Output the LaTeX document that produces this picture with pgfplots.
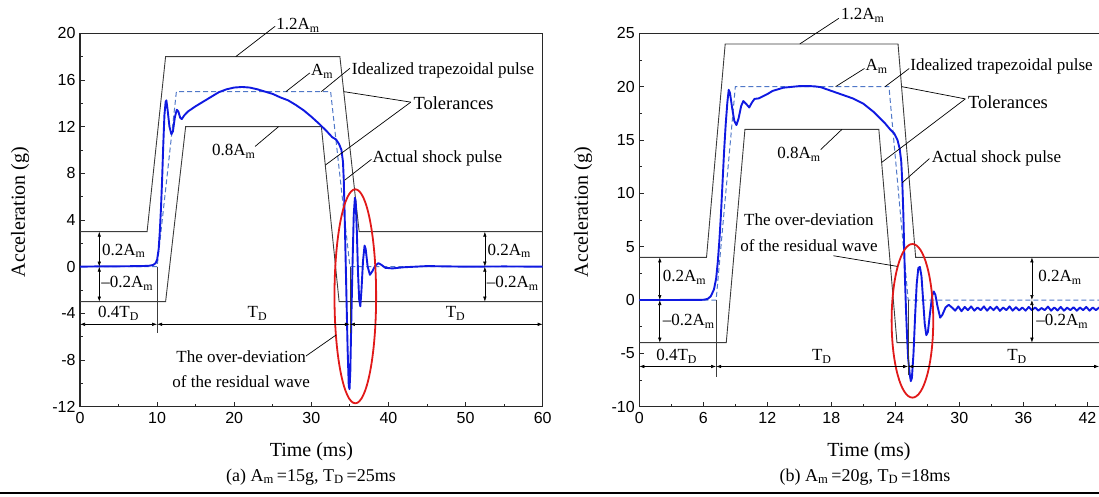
\documentclass[border=0pt]{standalone}
\usepackage{fontspec}
\setmainfont{Liberation Serif}
\setsansfont{Liberation Sans}
\usepackage{pgfplots}
\pgfplotsset{compat=1.18}
\usetikzlibrary{arrows.meta}

\definecolor{pulse}{RGB}{15,25,225}
\definecolor{ideal}{RGB}{80,120,200}
\definecolor{tol}{RGB}{60,60,60}
\definecolor{frm}{RGB}{40,40,40}
\definecolor{ell}{RGB}{225,25,25}

\newcommand{\ann}{\fontsize{17bp}{20bp}\selectfont}
\newcommand{\lab}{\fontsize{20bp}{24bp}\selectfont}
\newcommand{\capt}{\fontsize{18bp}{22bp}\selectfont}

\pgfplotsset{
  panel/.style={
    anchor=south west, scale only axis, height=373.4bp,
    tick align=inside, tick pos=left,
    major tick length=5bp, minor tick length=3bp,
    axis line style={frm, line width=1.1bp},
    major tick style={frm, line width=0.9bp},
    minor tick style={frm, line width=0.9bp},
    /pgf/number format/assume math mode=true,
    tick label style={font=\fontsize{16bp}{18bp}\selectfont\sffamily},
    xticklabel style={yshift=-2bp},
    yticklabel style={xshift=-1bp},
    clip=false,
  },
}
\tikzset{
  tolline/.style={tol, line width=0.9bp},
  idealline/.style={ideal, line width=1bp, dash pattern=on 5bp off 3bp},
  pulseline/.style={pulse, line width=1.9bp, line join=round},
  leader/.style={black, line width=0.7bp},
  dim/.style={black, line width=0.6bp, {Latex[length=5bp,width=3.5bp]}-{Latex[length=5bp,width=3.5bp]}},
}

\begin{document}
\begin{tikzpicture}[x=1bp,y=1bp]
\useasboundingbox (0,0) rectangle (1099,497);
\clip (0,0) rectangle (1099,497);

% ---------------- panel (a) ----------------
\begin{axis}[panel, at={(80bp,90.3bp)}, width=462.7bp,
  xmin=0, xmax=60, ymin=-12, ymax=20,
  xtick={0,10,...,60}, ytick={-12,-8,...,20},
  minor x tick num=1, minor y tick num=1]
\addplot[tolline] coordinates {(0,3) (8.7,3) (11.1,18) (33.7,18) (36.2,3) (60,3)};
\addplot[tolline] coordinates {(0,-3) (11.1,-3) (13.7,12) (31.3,12) (33.6,-3) (60,-3)};
\addplot[idealline] coordinates {(0,0) (10,0) (12.5,15) (32.5,15) (35,0) (60,0)};
\addplot[pulseline] coordinates {
(0,0) (2,0.02) (5,0.03) (8,0.05) (9,0.08) (9.5,0.15) (9.8,0.3) (10.0,0.6) (10.2,1.5)
(10.35,3) (10.5,5) (10.65,7.5) (10.8,10.5) (10.95,13) (11.1,14.1) (11.2,14.25) (11.35,13.5)
(11.6,12) (11.85,11.35) (12.05,11.6) (12.3,12.8) (12.55,13.45) (12.75,13.3) (13.0,12.75)
(13.2,12.65) (13.5,12.95) (14,13.3) (15,13.75) (16,14.15) (17,14.55) (18,14.95) (19,15.2)
(20,15.35) (21,15.4) (22,15.35) (23,15.2) (24,15.0) (25,14.8) (26,14.5) (27,14.25) (28,13.85)
(29,13.4) (30,12.85) (31,12.25) (32,11.6) (32.7,11.1) (33.2,10.9) (33.6,10.5) (33.9,10.0)
(34.1,9) (34.2,7.5) (34.3,5) (34.4,2) (34.5,-1) (34.6,-4) (34.7,-7) (34.85,-10.2) (34.95,-10.5)
(35.05,-9) (35.2,-4) (35.35,0.5) (35.5,4.5) (35.65,5.9) (35.75,5.6) (35.9,3) (36.05,-0.5)
(36.2,-2.8) (36.35,-3.4) (36.5,-2) (36.7,0.5) (36.9,1.8) (37.05,1.5) (37.3,0) (37.6,-0.7)
(37.9,-0.4) (38.3,0.1) (38.7,0.3) (39.1,0.15) (39.6,-0.1) (40.5,-0.15) (42,-0.05) (45,0.05)
(50,0.0) (55,0.02) (60,0.0)};
% ellipse
\draw[ell, line width=1.8bp] (axis cs:35.7,-2.54) ellipse [x radius=2.7, y radius=9.17];
% dimension lines
\draw[tol, line width=0.7bp] (axis cs:10,0) -- (axis cs:10,-5.7);
\draw[tol, line width=0.7bp] (axis cs:35,0) -- (axis cs:35,-5.7);
\draw[dim] (axis cs:0,-4.94) -- (axis cs:10,-4.94);
\draw[dim] (axis cs:10,-4.94) -- (axis cs:35,-4.94);
\draw[dim] (axis cs:35,-4.94) -- (axis cs:60,-4.94);
\draw[dim] (axis cs:2.5,0) -- (axis cs:2.5,3);
\draw[dim] (axis cs:2.5,0) -- (axis cs:2.5,-3);
\draw[dim] (axis cs:52.5,0) -- (axis cs:52.5,3);
\draw[dim] (axis cs:52.5,0) -- (axis cs:52.5,-3);
\node[font=\ann, anchor=west, inner sep=1bp] at (axis cs:2.7,1.35) {0.2A\textsubscript{m}};
\node[font=\ann, anchor=west, inner sep=1bp] at (axis cs:2.6,-1.45) {--0.2A\textsubscript{m}};
\node[font=\ann, anchor=west, inner sep=1bp] at (axis cs:52.7,1.35) {0.2A\textsubscript{m}};
\node[font=\ann, anchor=west, inner sep=1bp] at (axis cs:52.6,-1.45) {--0.2A\textsubscript{m}};
\node[font=\ann] at (axis cs:5,-4.0) {0.4T\textsubscript{D}};
\node[font=\ann] at (axis cs:23,-4.0) {T\textsubscript{D}};
\node[font=\ann] at (axis cs:48.7,-4.0) {T\textsubscript{D}};
% annotations
\draw[leader] (axis cs:20.2,18) -- (axis cs:25.3,20.6);
\node[font=\ann, anchor=west, inner sep=1bp] at (axis cs:25.3,20.7) {1.2A\textsubscript{m}};
\draw[leader] (axis cs:26.7,15) -- (axis cs:29.8,16.6);
\node[font=\ann, anchor=west, inner sep=1bp] at (axis cs:29.8,16.75) {A\textsubscript{m}};
\draw[leader] (axis cs:31.3,15) -- (axis cs:35.0,17);
\node[font=\ann, anchor=west, inner sep=1bp] at (axis cs:35.1,16.8) {Idealized trapezoidal pulse};
\draw[leader] (axis cs:34.2,15) -- (axis cs:42.9,14.1);
\draw[leader] (axis cs:31.8,8.7) -- (axis cs:42.9,14.1);
\node[font=\fontsize{18.5bp}{22bp}\selectfont, anchor=west, inner sep=1bp] at (axis cs:43.1,14.0) {Tolerances};
\draw[leader] (axis cs:25.75,12) -- (axis cs:22.7,10.3);
\node[font=\ann, anchor=east, inner sep=1bp] at (axis cs:22.9,9.9) {0.8A\textsubscript{m}};
\draw[leader] (axis cs:34.3,7.4) -- (axis cs:37.8,9.2);
\node[font=\ann, anchor=west, inner sep=1bp] at (axis cs:37.8,9.3) {Actual shock pulse};
\draw[leader] (axis cs:29.3,-7.66) -- (axis cs:33.2,-5.86);
\node[font=\fontsize{17bp}{25bp}\selectfont, align=center, inner sep=0pt] at (axis cs:20.9,-8.78) {The over-deviation\\of the residual wave};
\end{axis}

% ---------------- panel (b) ----------------
\begin{axis}[panel, at={(639.3bp,90.3bp)}, width=460.9bp,
  xmin=0, xmax=43.2, ymin=-10, ymax=25,
  xtick={0,6,...,42}, ytick={-10,-5,...,25},
  minor x tick num=1, minor y tick num=1]
\addplot[tolline] coordinates {(0,4) (6.3,4) (8.05,24) (24.25,24) (25.9,4) (43.2,4)};
\addplot[tolline] coordinates {(0,-4) (8.15,-4) (9.9,16) (22.45,16) (24.15,-4) (43.2,-4)};
\addplot[idealline] coordinates {(0,0) (7.2,0) (9.0,20) (23.4,20) (25.2,0) (43.2,0)};
\addplot[pulseline] coordinates {
(0,0) (3,0) (6,0.02) (6.4,0.1) (6.7,0.35) (7.0,1.0) (7.2,2.0) (7.35,3.5) (7.5,5.5) (7.65,8)
(7.8,11) (7.95,14) (8.1,16.5) (8.25,18.5) (8.38,19.7) (8.5,19.4) (8.7,18) (8.9,16.8) (9.1,16.4)
(9.3,17) (9.55,18.2) (9.75,18.65) (10.0,18.4) (10.3,18.05) (10.55,18.5) (10.8,18.85) (11.2,18.9)
(11.6,19.1) (12.0,19.3) (12.5,19.6) (13.0,19.75) (13.5,19.9) (14,19.95) (15,20.05) (16,20.05)
(16.5,20.02) (17,19.95) (18,19.6) (19,19.25) (20,18.9) (21,18.4) (22,17.6) (23,16.6) (23.5,16.0)
(23.9,15.6) (24.2,15.0) (24.4,14.2) (24.55,13) (24.65,11) (24.75,8) (24.82,5) (24.9,2) (25.0,-1)
(25.1,-3.5) (25.2,-5.5) (25.35,-7.0) (25.45,-7.6) (25.55,-7.3) (25.7,-5) (25.85,-1.5) (26.0,1.5)
(26.15,3.0) (26.3,3.1) (26.45,2.2) (26.6,0) (26.75,-2.2) (26.9,-3.3) (27.05,-3.0) (27.25,-1.2)
(27.45,0.4) (27.6,0.8) (27.75,0.5) (27.95,-0.6) (28.2,-1.65) (28.4,-1.4) (28.7,-0.7) (29.0,-0.45)
(29.3,-0.7) (29.6,-1.0) (29.9,-0.6) (30.2,-1.05) (30.5,-0.65) (30.8,-0.95) (31.1,-0.6) (31.4,-1.0)
(31.7,-0.7) (32.0,-0.95) (32.3,-0.6) (32.6,-1.0) (32.9,-0.65) (33.2,-0.95) (33.5,-0.62) (33.8,-1.02)
(34.1,-0.7) (34.4,-0.95) (34.7,-0.6) (35.0,-1.0) (35.3,-0.68) (35.6,-0.98) (35.9,-0.7) (36.2,-1.0)
(36.5,-0.65) (36.8,-0.95) (37.1,-0.7) (37.4,-1.0) (37.7,-0.75) (38.0,-0.95) (38.3,-0.62) (38.6,-1.0)
(38.9,-0.7) (39.2,-0.98) (39.5,-0.65) (39.8,-1.0) (40.1,-0.72) (40.4,-0.95) (40.7,-0.68) (41.0,-1.0)
(41.3,-0.7) (41.6,-0.95) (41.9,-0.65) (42.2,-1.0) (42.5,-0.7) (42.8,-0.95) (43.1,-0.7) (43.2,-0.8)};
\draw[ell, line width=1.8bp] (axis cs:25.6,-1.95) ellipse [x radius=1.95, y radius=7.2];
\draw[tol, line width=0.7bp] (axis cs:7.2,0) -- (axis cs:7.2,-7.2);
\draw[tol, line width=0.7bp] (axis cs:25.2,0) -- (axis cs:25.2,-7.0);
\draw[dim] (axis cs:0,-6.23) -- (axis cs:7.2,-6.23);
\draw[dim] (axis cs:7.2,-6.23) -- (axis cs:25.2,-6.23);
\draw[dim] (axis cs:25.2,-6.23) -- (axis cs:43.1,-6.23);
\draw[dim] (axis cs:1.92,0) -- (axis cs:1.92,4);
\draw[dim] (axis cs:1.92,0) -- (axis cs:1.92,-4);
\draw[dim] (axis cs:36.8,0) -- (axis cs:36.8,4);
\draw[dim] (axis cs:36.8,0) -- (axis cs:36.8,-4);
\node[font=\ann, anchor=west, inner sep=1bp] at (axis cs:2.1,2.1) {0.2A\textsubscript{m}};
\node[font=\ann, anchor=west, inner sep=1bp] at (axis cs:2.1,-2.0) {--0.2A\textsubscript{m}};
\node[font=\ann, anchor=west, inner sep=1bp] at (axis cs:37.3,2.1) {0.2A\textsubscript{m}};
\node[font=\ann, anchor=west, inner sep=1bp] at (axis cs:37.1,-2.0) {--0.2A\textsubscript{m}};
\node[font=\ann] at (axis cs:3.5,-5.3) {0.4T\textsubscript{D}};
\node[font=\ann] at (axis cs:17.1,-5.3) {T\textsubscript{D}};
\node[font=\ann] at (axis cs:35.4,-5.3) {T\textsubscript{D}};
\draw[leader] (axis cs:15.04,24) -- (axis cs:18.7,26.4);
\node[font=\ann, anchor=west, inner sep=1bp] at (axis cs:18.8,26.7) {1.2A\textsubscript{m}};
\draw[leader] (axis cs:18.4,20) -- (axis cs:21.1,21.7);
\node[font=\ann, anchor=west, inner sep=1bp] at (axis cs:21.1,21.9) {A\textsubscript{m}};
\draw[leader] (axis cs:23.04,20) -- (axis cs:25.3,21.7);
\node[font=\ann, anchor=west, inner sep=1bp] at (axis cs:25.3,21.9) {Idealized trapezoidal pulse};
\draw[leader] (axis cs:24.6,20) -- (axis cs:30.56,18.85);
\draw[leader] (axis cs:22.72,12.9) -- (axis cs:30.56,18.85);
\node[font=\fontsize{18.5bp}{22bp}\selectfont, anchor=west, inner sep=1bp] at (axis cs:30.7,18.5) {Tolerances};
\draw[leader] (axis cs:19.0,16) -- (axis cs:17.0,14.1);
\node[font=\ann, anchor=east, inner sep=1bp] at (axis cs:17.1,13.66) {0.8A\textsubscript{m}};
\draw[leader] (axis cs:24.65,11) -- (axis cs:27.2,13.26);
\node[font=\ann, anchor=west, inner sep=1bp] at (axis cs:27.3,13.26) {Actual shock pulse};
\draw[leader] (axis cs:18.2,4.15) -- (axis cs:24.2,3.15);
\node[font=\fontsize{17bp}{26bp}\selectfont, align=center, inner sep=0pt] at (axis cs:15.9,6.35) {The over-deviation\\of the residual wave};
\end{axis}

% axis labels and captions
\node[font=\lab, rotate=90] at (20,285) {Acceleration (g)};
\node[font=\lab, rotate=90] at (583,285) {Acceleration (g)};
\node[font=\lab] at (311.4,45) {Time (ms)};
\node[font=\lab] at (869,45) {Time (ms)};
\node[font=\capt] at (311,20) {(a) A\textsubscript{m}\,=15g, T\textsubscript{D}\,=25ms};
\node[font=\capt] at (865,20) {(b) A\textsubscript{m}\,=20g, T\textsubscript{D}\,=18ms};
\draw[black, line width=2bp] (0,4) -- (1099,4);
\end{tikzpicture}
\end{document}
